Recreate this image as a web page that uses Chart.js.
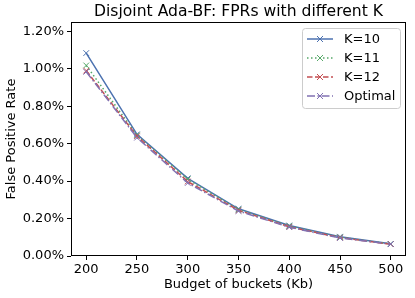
<!DOCTYPE html>
<html>
<head>
<meta charset="utf-8">
<script src="https://cdn.jsdelivr.net/npm/chart.js@4.4.1/dist/chart.umd.min.js"></script>
<style>
  html, body { margin: 0; padding: 0; background: #fff; }
  #wrap { width: 415px; height: 298px; }
</style>
</head>
<body>
<div id="wrap"><canvas id="fprChart" width="415" height="298"></canvas></div>
<script>
// budgets on the x axis (Kb)
const budgets = [200, 250, 300, 350, 400, 450, 500];
// false positive rates in percent
const fprK10 = [1.084, 0.650, 0.415, 0.252, 0.163, 0.103, 0.065];
const fprK11 = [1.018, 0.645, 0.410, 0.248, 0.160, 0.100, 0.064];
const fprK12 = [0.990, 0.640, 0.398, 0.244, 0.156, 0.098, 0.063];
const fprOptimal = [0.984, 0.632, 0.390, 0.240, 0.154, 0.096, 0.063];
const xTicks = [200, 250, 300, 350, 400, 450, 500];
const yTicks = [0, 0.2, 0.4, 0.6, 0.8, 1.0, 1.2];

const fontFamily = "'DejaVu Sans', sans-serif";

// series styling (matplotlib seaborn-like colours)
const seriesInfo = [
    { label: 'K=10', data: fprK10, color: '#4C72B0', dash: [] },
    { label: 'K=11', data: fprK11, color: '#55A868', dash: [1.5, 2.5] },
    { label: 'K=12', data: fprK12, color: '#C44E52', dash: [5.5, 2.5] },
    { label: 'Optimal', data: fprOptimal, color: '#8172B2', dash: [8, 2.5, 1.5, 2.5] }
];

// title, frame box and legend drawn by hand like matplotlib
const framePlugin = {
    id: 'frame',
    afterDraw(chart) {
        const ctx = chart.ctx;
        const a = chart.chartArea;
        ctx.save();
        ctx.strokeStyle = '#000';
        ctx.lineWidth = 1;
        ctx.strokeRect(Math.round(a.left) + 0.5, Math.round(a.top) + 0.5,
            Math.round(a.right - a.left) - 1, Math.round(a.bottom - a.top) - 1);

        // title
        ctx.fillStyle = '#000';
        ctx.font = '15.6px ' + fontFamily;
        ctx.textAlign = 'center';
        ctx.textBaseline = 'middle';
        ctx.fillText('Disjoint Ada-BF: FPRs with different K', (a.left + a.right) / 2, 12);

        // legend
        const boxW = 98, boxH = 80;
        const bx = a.right - 6 - boxW, by = a.top + 6;
        ctx.beginPath();
        ctx.roundRect(bx + 0.5, by + 0.5, boxW, boxH, 3);
        ctx.fillStyle = 'rgba(255,255,255,0.8)';
        ctx.fill();
        ctx.strokeStyle = '#cccccc';
        ctx.stroke();
        ctx.font = '13px ' + fontFamily;
        ctx.textAlign = 'left';
        seriesInfo.forEach((s, i) => {
            const yy = by + 11 + i * 19;
            ctx.strokeStyle = s.color;
            ctx.lineWidth = 1.5;
            ctx.setLineDash(s.dash);
            ctx.beginPath();
            ctx.moveTo(bx + 5, yy);
            ctx.lineTo(bx + 31, yy);
            ctx.stroke();
            ctx.setLineDash([]);
            ctx.lineWidth = 1;
            const cx = bx + 18, r = 3;
            ctx.beginPath();
            ctx.moveTo(cx - r, yy - r); ctx.lineTo(cx + r, yy + r);
            ctx.moveTo(cx - r, yy + r); ctx.lineTo(cx + r, yy - r);
            ctx.stroke();
            ctx.fillStyle = '#000';
            ctx.fillText(s.label, bx + 42, yy + 1);
        });
        ctx.restore();
    }
};

let ctx = document.getElementById('fprChart').getContext('2d');
let fprChart = new Chart(ctx, {
    type: 'line',
    data: {
        datasets: seriesInfo.map((s, i) => ({
            label: s.label,
            data: budgets.map((b, j) => ({ x: b, y: s.data[j] })),
            borderColor: s.color,
            backgroundColor: s.color,
            borderWidth: 1.5,
            borderDash: s.dash,
            pointStyle: 'crossRot',
            pointRadius: 4,
            pointBorderWidth: 1,
            pointBorderColor: s.color,
            fill: false,
            tension: 0,
            order: seriesInfo.length - i
        }))
    },
    options: {
        responsive: false,
        animation: false,
        layout: { padding: { left: 0, right: 9, top: 22, bottom: 0 } },
        plugins: {
            legend: { display: false },
            title: { display: false },
            tooltip: { enabled: false }
        },
        scales: {
            x: {
                type: 'linear',
                min: 185,
                max: 515,
                afterBuildTicks: scale => { scale.ticks = xTicks.map(v => ({ value: v })); },
                afterFit: scale => { scale.height = 42; },
                grid: { display: true, drawOnChartArea: false, drawTicks: true, tickLength: 4, color: '#000' },
                border: { display: false },
                ticks: { color: '#000', padding: 2, maxRotation: 0, font: { family: fontFamily, size: 13 } },
                title: {
                    display: true,
                    text: 'Budget of buckets (Kb)',
                    color: '#000',
                    padding: { top: 0, bottom: 6 },
                    font: { family: fontFamily, size: 13 }
                }
            },
            y: {
                type: 'linear',
                min: 0,
                max: 1.25,
                afterBuildTicks: scale => { scale.ticks = yTicks.map(v => ({ value: v })); },
                afterFit: scale => { scale.width = 71; },
                grid: { display: true, drawOnChartArea: false, drawTicks: true, tickLength: 4, color: '#000' },
                border: { display: false },
                ticks: {
                    color: '#000',
                    padding: 3,
                    font: { family: fontFamily, size: 13 },
                    callback: v => v.toFixed(2) + '%'
                },
                title: {
                    display: true,
                    text: 'False Positive Rate',
                    color: '#000',
                    padding: { top: 4, bottom: 0 },
                    font: { family: fontFamily, size: 13 }
                }
            }
        }
    },
    plugins: [framePlugin]
});
</script>
</body>
</html>
